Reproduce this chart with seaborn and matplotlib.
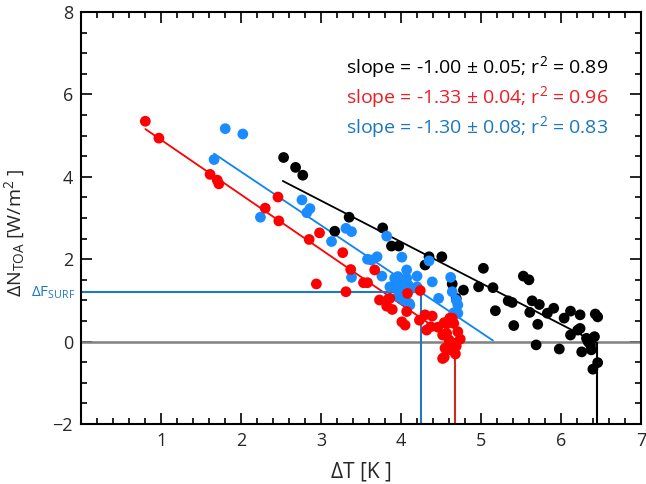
import numpy as np
import pandas as pd
import matplotlib
matplotlib.use("Agg")
import matplotlib.pyplot as plt
import seaborn as sns
from matplotlib.ticker import MultipleLocator, FixedLocator

# ---------------- data ----------------
black_x = [2.53, 2.68, 2.77, 3.35, 3.17, 3.77, 3.88, 3.97, 4.35, 4.51, 4.30, 4.64, 4.78, 4.69,
           5.03, 4.97, 5.15, 5.18, 5.34, 5.39, 5.41, 5.53, 5.60, 5.64, 5.61, 5.73, 5.71, 5.69,
           5.83, 5.91, 5.98, 6.04, 6.12, 6.12, 6.24, 6.21, 6.24, 6.26, 6.32, 6.34, 6.37, 6.42,
           6.38, 6.43, 6.46, 6.46, 6.40]
black_y = [4.47, 4.23, 4.04, 3.02, 2.68, 2.76, 2.32, 2.32, 2.06, 2.06, 1.86, 1.40, 1.25, 1.05,
           1.78, 1.33, 1.31, 0.75, 0.99, 0.95, 0.39, 1.59, 1.50, 0.99, 0.71, 0.90, 0.42, -0.08,
           0.69, 0.81, -0.18, 0.57, 0.74, 0.16, 0.65, 0.28, 0.32, -0.25, 0.08, 0.00, -0.08, 0.12,
           -0.20, 0.67, 0.60, -0.51, -0.67]

red_x = [0.80, 0.97, 1.61, 1.70, 1.72, 2.46, 2.30, 2.47, 2.98, 2.85, 3.27, 2.94, 3.37, 3.67,
         3.53, 3.58, 3.31, 3.73, 3.84, 3.82, 3.86, 3.89, 4.01, 4.05, 4.08, 4.24, 4.07, 4.23,
         4.30, 4.39, 4.32, 4.37, 4.46, 4.54, 4.61, 4.54, 4.57, 4.60, 4.57, 4.64, 4.66, 4.52,
         4.71, 4.74, 4.61, 4.66, 4.55, 4.62, 4.68, 4.52, 4.67, 4.69]
red_y = [5.35, 4.94, 4.06, 3.92, 3.83, 3.51, 3.24, 2.93, 2.64, 2.48, 2.16, 1.40, 1.75, 1.74,
         1.43, 1.43, 1.21, 1.01, 1.03, 0.86, 1.05, 0.78, 0.48, 0.40, 1.17, 1.24, 0.73, 0.52,
         0.65, 0.62, 0.28, 0.36, 0.35, 0.46, 0.57, -0.38, 0.20, 0.04, 0.43, 0.57, 0.44, 0.16,
         0.24, 0.06, -0.08, -0.12, -0.16, -0.20, -0.30, -0.41, -0.04, -0.11]

blue_x = [1.80, 2.02, 1.66, 2.24, 2.76, 2.86, 2.82, 3.13, 3.31, 3.38, 3.38, 3.58, 3.63, 3.70,
          3.76, 3.82, 3.86, 4.01, 4.07, 3.96, 3.92, 4.03, 4.07, 4.20, 4.39, 4.62, 4.64, 4.47,
          4.20, 3.96, 4.03, 4.10, 4.13, 4.35, 4.69, 4.71, 4.66, 4.71, 3.94, 3.99, 4.09, 4.11,
          4.05, 3.92]
blue_y = [5.17, 5.04, 4.42, 3.02, 3.44, 3.23, 3.13, 2.43, 2.75, 2.67, 1.56, 2.00, 1.98, 2.06,
          1.59, 2.56, 1.33, 2.05, 1.74, 1.58, 1.33, 1.41, 1.54, 1.59, 1.45, 1.56, 1.21, 1.05,
          1.33, 1.09, 1.01, 0.93, 1.29, 1.96, 1.01, 0.89, 0.70, 0.69, 1.54, 1.33, 1.37, 0.89,
          1.50, 1.54]

series_names = ["black", "red", "blue"]
fit_slopes = [-1.00, -1.33, -1.30]
fit_xint = [6.42, 4.68, 5.17]
fit_xstart = [2.52, 0.80, 1.66]
fit_xend = [6.45, 4.68, 5.15]
labels = ["slope = -1.00 \u00b1 0.05; r$^2$ = 0.89",
          "slope = -1.33 \u00b1 0.04; r$^2$ = 0.96",
          "slope = -1.30 \u00b1 0.08; r$^2$ = 0.83"]
dT_surf_blue = 4.25  # blue ΔT where ΔF_SURF is read

dot_colors = {"black": "#000000", "red": "#ff0000", "blue": "#1a8cff"}
line_colors = {"black": "#000000", "red": "#ff0000", "blue": "#0a84f0"}
vline_colors = {"black": "#000000", "red": "#d0281c", "blue": "#1f78c4"}
text_colors = {"black": "#000000", "red": "#ee1c24", "blue": "#1a78c2"}

# ---------------- style ----------------
sns.set_theme(style="white")
plt.rcParams["font.family"] = ["Open Sans", "DejaVu Sans"]
plt.rcParams["mathtext.fontset"] = "custom"
plt.rcParams["mathtext.rm"] = "Open Sans"
plt.rcParams["mathtext.it"] = "Open Sans:italic"

fig = plt.figure(figsize=(6.46, 4.84), dpi=100)
ax = fig.add_axes([0.126, 0.124, 0.866, 0.851])

# zero line
ax.axhline(0, color="#808080", lw=1.8, zorder=1)

df_list = []
for nm, xs, ys in [("black", black_x, black_y), ("blue", blue_x, blue_y), ("red", red_x, red_y)]:
    df_list.append(pd.DataFrame({"dT": xs, "dN": ys, "run": nm}))
df = pd.concat(df_list, ignore_index=True)

# regression lines and vertical drops
for nm, s, xi, x0, x1 in zip(series_names, fit_slopes, fit_xint, fit_xstart, fit_xend):
    lx = np.array([x0, x1])
    ly = s * (lx - xi)
    sns.lineplot(x=lx, y=ly, color=line_colors[nm], lw=1.3, ax=ax, zorder=2)
    if nm == "blue":
        fs = s * (dT_surf_blue - xi)
        ax.plot([0, dT_surf_blue], [fs, fs], color=vline_colors[nm], lw=1.5, zorder=2)
        ax.plot([dT_surf_blue, dT_surf_blue], [fs, -2], color=vline_colors[nm], lw=1.5, zorder=2)
    elif nm == "black":
        ax.plot([x1, x1], [s * (x1 - xi), -2], color=vline_colors[nm], lw=1.5, zorder=2)
    else:
        ax.plot([xi, xi], [0, -2], color=vline_colors[nm], lw=1.5, zorder=2)

sns.scatterplot(data=df, x="dT", y="dN", hue="run", palette=dot_colors,
                hue_order=["black", "blue", "red"], s=60, linewidth=0,
                legend=False, ax=ax, zorder=3)

# annotation texts
ty = [6.67, 5.93, 5.21]
for nm, lab, yv in zip(series_names, labels, ty):
    ax.text(3.31, yv, lab, color=text_colors[nm], fontsize=14, va="center", ha="left")

# ΔF_SURF label
fs_val = fit_slopes[2] * (dT_surf_blue - fit_xint[2])
ax.text(-0.08, fs_val, "\u0394F$_{\\mathrm{SURF}}$", color=vline_colors["blue"],
        fontsize=11, ha="right", va="center", clip_on=False)

# axes
ax.set_xlim(0, 7)
ax.set_ylim(-2, 8)
ax.xaxis.set_major_locator(FixedLocator([1, 2, 3, 4, 5, 6, 7]))
ax.xaxis.set_minor_locator(MultipleLocator(0.2))
ax.yaxis.set_major_locator(MultipleLocator(2))
ax.yaxis.set_minor_locator(MultipleLocator(0.5))
ax.tick_params(which="both", direction="in", top=True, right=True, bottom=True, left=True,
               color="black", width=1.2)
ax.tick_params(which="major", length=8, labelsize=13, pad=6)
ax.tick_params(which="minor", length=4)
for sp in ax.spines.values():
    sp.set_color("black")
    sp.set_linewidth(1.5)

ax.set_xlabel("\u0394T [K ]", fontsize=15, labelpad=8)
ax.set_ylabel("\u0394N$_{\\mathrm{TOA}}$ [W/m$^2$ ]", fontsize=14)
ax.yaxis.set_label_coords(-0.098, 0.465)

fig.savefig("out.png", dpi=100)
